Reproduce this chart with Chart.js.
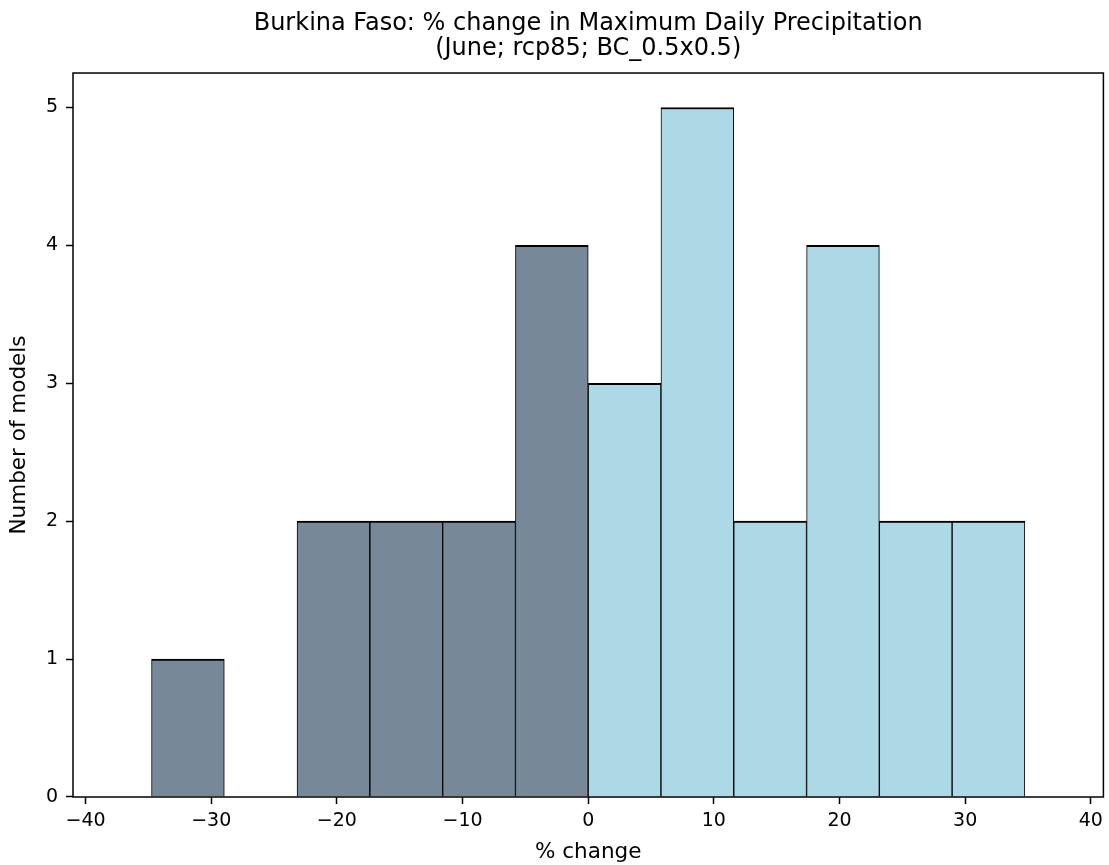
<!DOCTYPE html>
<html>
<head>
<meta charset="utf-8">
<script src="https://cdn.jsdelivr.net/npm/chart.js@4.4.0/dist/chart.umd.min.js"></script>
<style>
  html, body { margin: 0; padding: 0; background: #ffffff; }
  #wrap { width: 1109px; height: 865px; }
</style>
</head>
<body>
<div id="wrap"><canvas id="c" width="1109" height="865"></canvas></div>
<script>
// ---- data ----
const titleLines = ["Burkina Faso: % change in Maximum Daily Precipitation", "(June; rcp85; BC_0.5x0.5)"];
const xLabel = "% change";
const yLabel = "Number of models";
// histogram bin edges (% change)
const binEdges = [-34.75, -28.96, -23.17, -17.38, -11.58, -5.79, 0.0, 5.79, 11.58, 17.38, 23.17, 28.96, 34.75];
// number of models in each bin
const counts = [1, 0, 2, 2, 2, 4, 3, 5, 2, 4, 2, 2];
const xTicks = [-40, -30, -20, -10, 0, 10, 20, 30, 40];
const yTicks = [0, 1, 2, 3, 4, 5];
const negColor = "#778899";
const posColor = "#add8e6";

const points = counts.map((c, i) => ({ x: (binEdges[i] + binEdges[i + 1]) / 2, y: c }));
const colors = counts.map((c, i) => (binEdges[i + 1] <= 0 ? negColor : posColor));

const FONT = "'DejaVu Sans', sans-serif";

const framePlugin = {
  id: 'frame',
  afterDatasetsDraw(chart) {
    const { ctx, chartArea: a } = chart;
    ctx.save();
    ctx.strokeStyle = '#000';
    ctx.lineWidth = 1.5;
    ctx.strokeRect(a.left, a.top, a.right - a.left, a.bottom - a.top);
    ctx.restore();
  }
};

new Chart(document.getElementById('c'), {
  type: 'bar',
  data: {
    datasets: [{
      data: points,
      backgroundColor: colors,
      borderColor: '#000',
      borderWidth: { left: 1, right: 1, top: 2, bottom: 0 },
      borderSkipped: false,
      barPercentage: 1.0,
      categoryPercentage: 1.0
    }]
  },
  options: {
    responsive: false,
    animation: false,
    devicePixelRatio: 1,
    layout: { padding: { left: 0, right: 5, top: 0, bottom: 0 } },
    plugins: {
      legend: { display: false },
      tooltip: { enabled: false },
      title: {
        display: true,
        fullSize: false,
        text: titleLines,
        color: '#000',
        font: { family: FONT, size: 24, weight: 'normal', lineHeight: 1.042 },
        padding: { top: 11.5, bottom: 11.5 }
      }
    },
    scales: {
      x: {
        type: 'linear',
        min: -41,
        max: 41,
        offset: false,
        afterFit(s) { s.height = 68; },
        afterBuildTicks(s) { s.ticks = xTicks.map(v => ({ value: v })); },
        ticks: {
          color: '#000',
          font: { family: FONT, size: 19 },
          padding: 6,
          maxRotation: 0,
          includeBounds: false,
          callback: (v) => (v < 0 ? '\u2212' + Math.abs(v) : String(v))
        },
        grid: { display: true, offset: false, drawOnChartArea: false, drawTicks: true, tickLength: 7, tickColor: '#000', tickWidth: 1.5 },
        border: { display: false },
        title: { display: true, text: xLabel, color: '#000', font: { family: FONT, size: 21.5 }, padding: { top: 0, bottom: 0 } }
      },
      y: {
        type: 'linear',
        min: 0,
        max: 5.25,
        afterFit(s) { s.width = 73; },
        afterBuildTicks(s) { s.ticks = yTicks.map(v => ({ value: v })); },
        ticks: { color: '#000', font: { family: FONT, size: 19 }, padding: 8, includeBounds: false },
        grid: { display: true, drawOnChartArea: false, drawTicks: true, tickLength: 7, tickColor: '#000', tickWidth: 1.5 },
        border: { display: false },
        title: { display: true, text: yLabel, color: '#000', font: { family: FONT, size: 21.5 }, padding: { top: 7, bottom: 0 } }
      }
    }
  },
  plugins: [framePlugin]
});
</script>
</body>
</html>
